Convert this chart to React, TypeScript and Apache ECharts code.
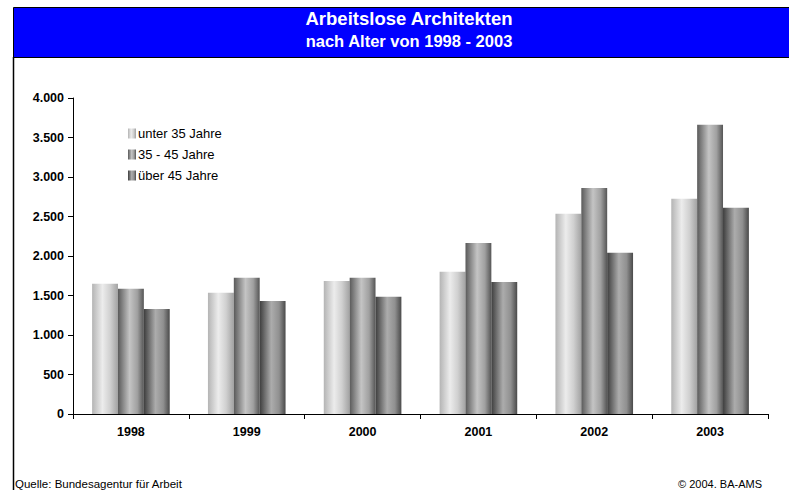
import React, { useEffect, useRef } from "react";
import * as echarts from "echarts";

const categories = ["1998", "1999", "2000", "2001", "2002", "2003"];
const seriesNames = ["unter 35 Jahre", "35 - 45 Jahre", "über 45 Jahre"];
const unter35 = [1650, 1535, 1685, 1800, 2535, 2725];
const mitte35bis45 = [1585, 1725, 1725, 2165, 2860, 3660];
const ueber45 = [1330, 1430, 1485, 1670, 2040, 2610];
const yTicks = [0, 500, 1000, 1500, 2000, 2500, 3000, 3500, 4000];

const grad = (stops: [number, string][]) =>
  new echarts.graphic.LinearGradient(
    0, 0, 1, 0,
    stops.map(([offset, color]) => ({ offset, color }))
  );

const fills = [
  grad([[0, "#b4b4b4"], [0.4, "#ececec"], [0.7, "#d0d0d0"], [1, "#a2a2a2"]]),
  grad([[0, "#5a5a5a"], [0.45, "#c4c4c4"], [0.75, "#a0a0a0"], [1, "#555555"]]),
  grad([[0, "#3e3e3e"], [0.45, "#acacac"], [0.75, "#909090"], [1, "#4a4a4a"]]),
];

const fmt = (v: number) => {
  const s = String(Math.round(v));
  return s.replace(/\B(?=(\d{3})+(?!\d))/g, ".");
};

export default function App() {
  const ref = useRef<HTMLDivElement>(null);
  useEffect(() => {
    if (!ref.current) return;
    const chart = echarts.init(ref.current, null, { renderer: "svg" });
    const font = "Liberation Sans, Arial, sans-serif";
    const dataSets = [unter35, mitte35bis45, ueber45];
    chart.setOption({
      animation: false,
      backgroundColor: "#ffffff",
      textStyle: { fontFamily: font },
      grid: { left: 73, right: 21, top: 98, bottom: 76, containLabel: false },
      legend: {
        orient: "vertical",
        left: 128,
        top: 127,
        padding: 0,
        itemWidth: 8,
        itemHeight: 10,
        itemGap: 8,
        icon: "rect",
        data: seriesNames,
        textStyle: { fontSize: 13, color: "#000", fontFamily: font, padding: [0, 0, 0, -3] },
      },
      xAxis: {
        type: "category",
        data: categories,
        axisLine: { lineStyle: { color: "#000", width: 1 } },
        axisTick: { show: true, length: 5, inside: false, lineStyle: { color: "#000" } },
        axisLabel: { fontSize: 12.5, fontWeight: "bold", color: "#000", margin: 11, fontFamily: font },
      },
      yAxis: {
        type: "value",
        min: 0,
        max: 4000,
        interval: 500,
        splitLine: { show: false },
        axisLine: { show: true, lineStyle: { color: "#000", width: 1 } },
        axisTick: { show: true, length: 5, lineStyle: { color: "#000" } },
        axisLabel: {
          fontSize: 12.5,
          fontWeight: "bold",
          color: "#000",
          margin: 9,
          fontFamily: font,
          formatter: (v: number) => (yTicks.includes(v) ? fmt(v) : ""),
        },
      },
      series: seriesNames.map((name, i) => ({
        name,
        type: "bar",
        data: dataSets[i],
        barGap: "0%",
        barCategoryGap: "33%",
        itemStyle: { color: fills[i] },
      })),
      graphic: [
        {
          type: "rect",
          shape: { x: 13.5, y: 7.5, width: 790, height: 50 },
          style: { fill: "#0000ff", stroke: "#000", lineWidth: 1 },
          z: 10,
        },
        {
          type: "line",
          shape: { x1: 13.5, y1: 57, x2: 13.5, y2: 490 },
          style: { stroke: "#000", lineWidth: 1.5 },
          z: 10,
        },
        {
          type: "text",
          x: 409,
          y: 9,
          style: {
            text: "Arbeitslose Architekten",
            fill: "#fff",
            font: `bold 18.5px ${font}`,
            textAlign: "center",
            textVerticalAlign: "top",
          },
          z: 11,
        },
        {
          type: "text",
          x: 409,
          y: 32,
          style: {
            text: "nach Alter von 1998 - 2003",
            fill: "#fff",
            font: `bold 16.5px ${font}`,
            textAlign: "center",
            textVerticalAlign: "top",
          },
          z: 11,
        },
        {
          type: "text",
          x: 15,
          y: 478,
          style: {
            text: "Quelle: Bundesagentur für Arbeit",
            fill: "#000",
            font: `11.5px ${font}`,
            textAlign: "left",
            textVerticalAlign: "top",
          },
        },
        {
          type: "text",
          x: 762,
          y: 478,
          style: {
            text: "© 2004. BA-AMS",
            fill: "#000",
            font: `11px ${font}`,
            textAlign: "right",
            textVerticalAlign: "top",
          },
        },
      ],
    });
    return () => chart.dispose();
  }, []);
  return (
    <div
      ref={ref}
      style={{ position: "fixed", left: 0, top: 0, width: 789, height: 490 }}
    />
  );
}
